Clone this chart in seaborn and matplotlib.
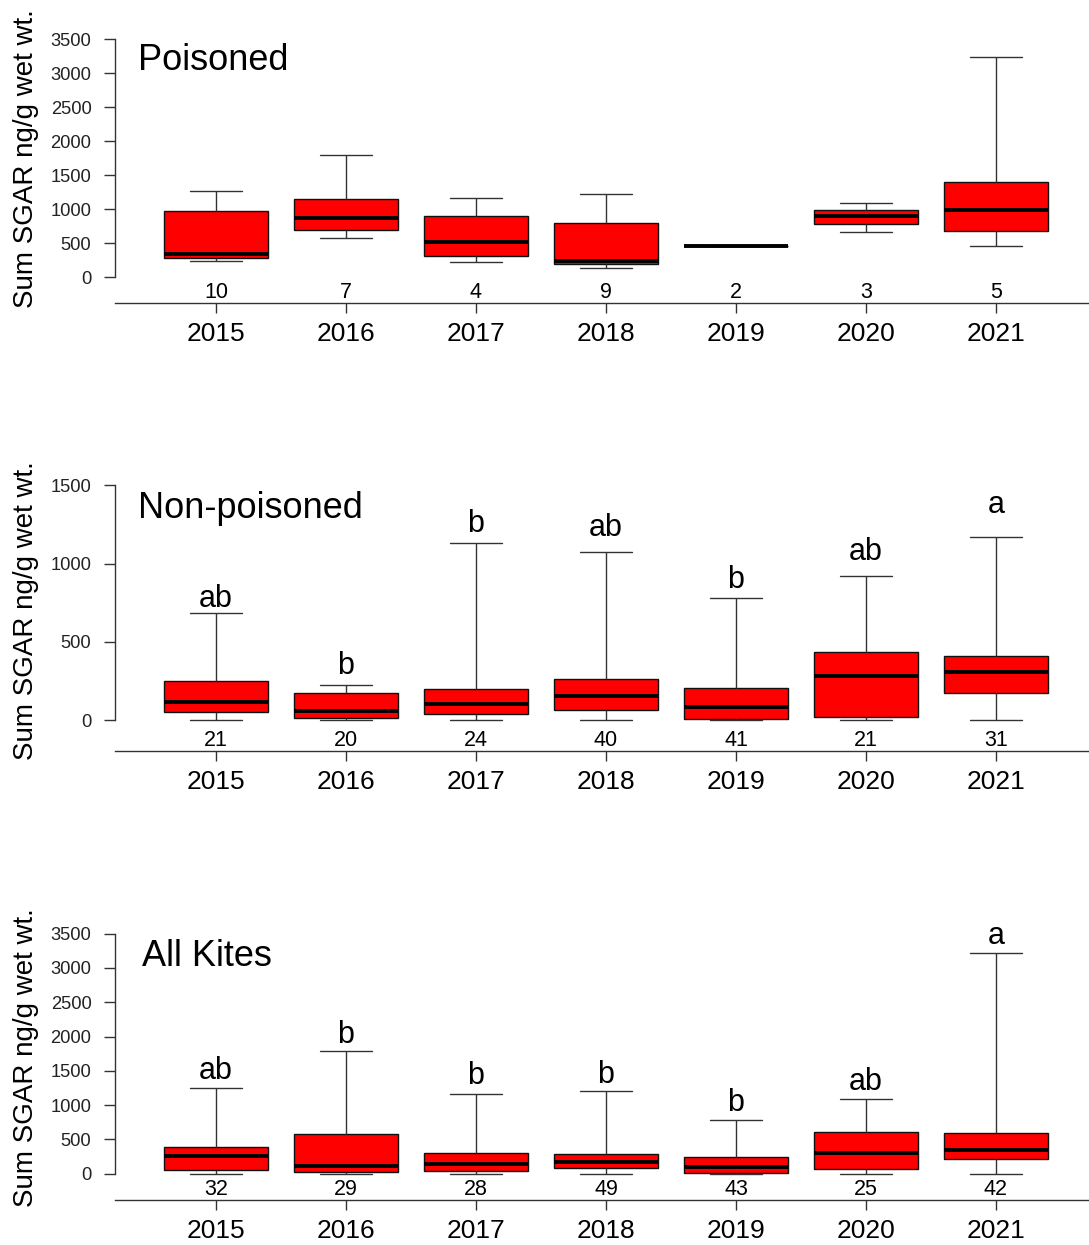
#!/usr/bin/env python3

# plot.py
#
# Sum SGAR concentrations by year for poisoned, non-poisoned and all kites.
import matplotlib
matplotlib.use('Agg')
import matplotlib.pyplot as plt
import pandas as pd
import seaborn as sb

YEARS = ['2015', '2016', '2017', '2018', '2019', '2020', '2021']

# Five number summaries per year: min, lower quartile, median, upper quartile, max
POISONED_STATS = [
  (240, 285, 335, 970, 1265),
  (576, 698, 874, 1142, 1790),
  (220, 303, 508, 898, 1161),
  (137, 186, 239, 801, 1215),
  (458, 458, 458, 458, 458),
  (664, 781, 903, 991, 1093),
  (458, 683, 991, 1401, 3231),
]
POISONED_N = [10, 7, 4, 9, 2, 3, 5]
POISONED_LETTERS = [''] * 7
POISONED_LETTER_Y = [0] * 7

NONPOISONED_STATS = [
  (0, 51, 119, 253, 685),
  (0, 13, 59, 176, 223),
  (0, 42, 104, 200, 1134),
  (0, 66, 155, 266, 1072),
  (2, 6, 87, 206, 783),
  (0, 21, 283, 438, 923),
  (0, 176, 306, 408, 1170),
]
NONPOISONED_N = [21, 20, 24, 40, 41, 21, 31]
NONPOISONED_LETTERS = ['ab', 'b', 'b', 'ab', 'b', 'ab', 'a']
NONPOISONED_LETTER_Y = [725, 294, 1204, 1176, 844, 1024, 1325]

ALL_STATS = [
  (0, 58, 253, 389, 1254),
  (0, 25, 117, 574, 1789),
  (0, 44, 137, 302, 1157),
  (0, 83, 171, 287, 1206),
  (0, 10, 98, 248, 783),
  (0, 64, 302, 612, 1089),
  (0, 219, 341, 589, 3222),
]
ALL_N = [32, 29, 28, 49, 43, 25, 42]
ALL_LETTERS = ['ab', 'b', 'b', 'b', 'b', 'ab', 'a']
ALL_LETTER_Y = [1377, 1910, 1308, 1327, 910, 1221, 3345]

YTICKS_WIDE = [0, 500, 1000, 1500, 2000, 2500, 3000, 3500]
YTICKS_NARROW = [0, 500, 1000, 1500]

WIDTH, HEIGHT = 1089, 1245
AXIS_LEFT = 115

# Panel layout in pixels: axes top, axes bottom, zero tick, top tick
PANELS = [
  ('Poisoned', POISONED_STATS, POISONED_N, POISONED_LETTERS, POISONED_LETTER_Y, YTICKS_WIDE,
    (15, 303, 277, 39), 138, 70),
  ('Non-poisoned', NONPOISONED_STATS, NONPOISONED_N, NONPOISONED_LETTERS, NONPOISONED_LETTER_Y, YTICKS_NARROW,
    (470, 751, 720.3, 485.3), 138, 518),
  ('All Kites', ALL_STATS, ALL_N, ALL_LETTERS, ALL_LETTER_Y, YTICKS_WIDE,
    (915, 1200, 1173.7, 933.7), 142, 966),
]
LINE = '#333333'


def expand(stats):
  # Five values per year reproduce the quartiles exactly
  rows = []
  for year, values in zip(YEARS, stats):
    for value in values:
      rows.append({'year': year, 'value': value})
  return pd.DataFrame(rows)


def plot_panel(figure, title, stats, counts, letters, letter_y, yticks, layout, title_x, baseline):
  top, bottom, zero, tick = layout
  position = [AXIS_LEFT / WIDTH, 1 - bottom / HEIGHT, (WIDTH - AXIS_LEFT) / WIDTH, (bottom - top) / HEIGHT]
  axis = figure.add_axes(position)

  sb.boxplot(data=expand(stats), x='year', y='value', order=YEARS, color='#ff0000', saturation=1,
    width=0.8, whis=(0, 100), linecolor='#111111', linewidth=1.0, ax=axis,
    medianprops={'color': 'black', 'linewidth': 2.8},
    whiskerprops={'color': LINE, 'linewidth': 1.0},
    capprops={'color': LINE, 'linewidth': 1.0})

  # Scale the axes so the ticks fall where the reference puts them
  scale = (zero - tick) / yticks[-1]
  axis.set_ylim(-(bottom - zero) / scale, yticks[-1] + (tick - top) / scale)
  axis.set_xlim((AXIS_LEFT - 216) / 130, (WIDTH - 216) / 130)
  axis.set_yticks(yticks)
  axis.set_yticklabels([str(t) for t in yticks], fontsize=13.2, color='#222222')
  axis.tick_params(axis='y', length=8, width=1, pad=9, color=LINE)
  axis.tick_params(axis='x', length=7, width=1, pad=7, labelsize=19, color=LINE, labelcolor='black')
  axis.set_xlabel('')
  axis.set_ylabel('Sum SGAR ng/g wet wt.', fontsize=20, color='black')
  axis.yaxis.set_label_coords((39 - AXIS_LEFT) / (WIDTH - AXIS_LEFT), 0.5)

  sb.despine(ax=axis, top=True, right=True)
  axis.spines['left'].set_bounds(0, yticks[-1])
  for side in ['left', 'bottom']:
    axis.spines[side].set_color(LINE)
    axis.spines[side].set_linewidth(1.0)

  # Sample sizes above the axis, significance letters above the whiskers
  for ndx, (count, letter, height) in enumerate(zip(counts, letters, letter_y)):
    axis.annotate(str(count), xy=(ndx, 0), xycoords=('data', 'axes fraction'), xytext=(0, 3.5),
      textcoords='offset points', ha='center', va='baseline', fontsize=15.5, color='black')
    if letter:
      axis.text(ndx, height, letter, ha='center', va='baseline', fontsize=22, color='black')

  axis.text((title_x - AXIS_LEFT) / (WIDTH - AXIS_LEFT), (bottom - baseline) / (bottom - top), title,
    transform=axis.transAxes, ha='left', va='baseline', fontsize=26, color='black')


if __name__ == '__main__':
  sb.set_style('ticks')
  plt.rcParams['font.family'] = ['Liberation Sans', 'DejaVu Sans']
  figure = plt.figure(figsize=(WIDTH / 100, HEIGHT / 100), dpi=100)
  for title, stats, counts, letters, letter_y, yticks, layout, title_x, baseline in PANELS:
    plot_panel(figure, title, stats, counts, letters, letter_y, yticks, layout, title_x, baseline)
  plt.savefig('out.png', dpi=100)
  plt.close()
